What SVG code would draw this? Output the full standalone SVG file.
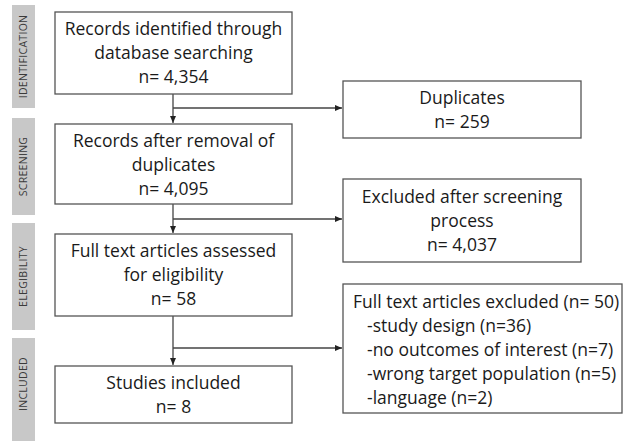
<svg xmlns="http://www.w3.org/2000/svg" width="624" height="441" viewBox="0 0 624 441">
<style>
.side{fill:#c8c8c8}
.sl{font-family:"Open Sans","Liberation Sans",sans-serif;font-size:10.5px;fill:#3a3a3a;text-anchor:middle;letter-spacing:0.3px}
.box{fill:#fff;stroke:#555;stroke-width:1.3}
.t{font-family:"Open Sans","Liberation Sans",sans-serif;font-size:17.5px;fill:#1a1a1a;text-anchor:middle}
.tl{font-family:"Open Sans","Liberation Sans",sans-serif;font-size:17.5px;fill:#1a1a1a}
.ln{fill:none;stroke:#444;stroke-width:1.3}
</style>
<defs>
<marker id="ah" markerWidth="8" markerHeight="8" refX="7" refY="4" orient="auto" markerUnits="userSpaceOnUse">
<path d="M0,1 L7,4 L0,7 Z" fill="#222"/>
</marker>
</defs>
<g id="sidebars">
<rect class="side" x="12" y="5" width="23" height="103"/>
<text class="sl" transform="translate(27,56.5) rotate(-90)">IDENTIFICATION</text>
<rect class="side" x="12" y="118" width="23" height="97"/>
<text class="sl" transform="translate(27,166.5) rotate(-90)">SCREENING</text>
<rect class="side" x="12" y="223" width="23" height="107"/>
<text class="sl" transform="translate(27,276.5) rotate(-90)">ELEGIBILITY</text>
<rect class="side" x="12" y="338" width="23" height="103"/>
<text class="sl" transform="translate(27,384) rotate(-90)">INCLUDED</text>
</g>
<g id="connectors">
<path class="ln" d="M173,94 V123" marker-end="url(#ah)"/>
<path class="ln" d="M173,108 H342" marker-end="url(#ah)"/>
<path class="ln" d="M173,204 V233" marker-end="url(#ah)"/>
<path class="ln" d="M173,219 H342" marker-end="url(#ah)"/>
<path class="ln" d="M173,316 V365" marker-end="url(#ah)"/>
<path class="ln" d="M173,348 H342" marker-end="url(#ah)"/>
</g>
<g id="n1">
<rect class="box" x="55" y="12" width="237" height="82"/>
<text class="t" x="173.5" y="35">Records identified through</text>
<text class="t" x="173.5" y="59">database searching</text>
<text class="t" x="173.5" y="83">n= 4,354</text>
</g>
<g id="n2">
<rect class="box" x="343" y="81" width="238" height="57"/>
<text class="t" x="462" y="104">Duplicates</text>
<text class="t" x="462" y="128">n= 259</text>
</g>
<g id="n3">
<rect class="box" x="55" y="124" width="237" height="80"/>
<text class="t" x="173.5" y="147">Records after removal of</text>
<text class="t" x="173.5" y="171">duplicates</text>
<text class="t" x="173.5" y="195">n= 4,095</text>
</g>
<g id="n4">
<rect class="box" x="343" y="179" width="238" height="83"/>
<text class="t" x="462" y="203">Excluded after screening</text>
<text class="t" x="462" y="227">process</text>
<text class="t" x="462" y="251">n= 4,037</text>
</g>
<g id="n5">
<rect class="box" x="55" y="234" width="237" height="82"/>
<text class="t" x="173.5" y="257">Full text articles assessed</text>
<text class="t" x="173.5" y="281">for eligibility</text>
<text class="t" x="173.5" y="305">n= 58</text>
</g>
<g id="n6">
<rect class="box" x="343" y="284" width="279" height="129"/>
<text class="tl" x="353" y="308">Full text articles excluded (n= 50)</text>
<text class="tl" x="367" y="332">-study design (n=36)</text>
<text class="tl" x="367" y="356">-no outcomes of interest (n=7)</text>
<text class="tl" x="367" y="380">-wrong target population (n=5)</text>
<text class="tl" x="367" y="404">-language (n=2)</text>
</g>
<g id="n7">
<rect class="box" x="55" y="366" width="237" height="57"/>
<text class="t" x="173.5" y="389">Studies included</text>
<text class="t" x="173.5" y="413">n= 8</text>
</g>
</svg>
